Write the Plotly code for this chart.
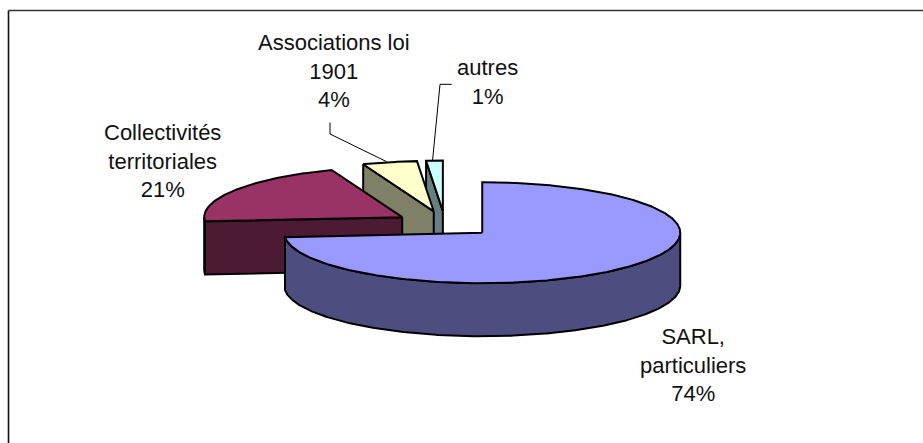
import numpy as np
import plotly.graph_objects as go

# Data
categories = ["SARL,<br>particuliers", "Collectivités<br>territoriales", "Associations loi<br>1901", "autres"]
values = [73.6, 20.6, 4.45, 1.35]
percent_labels = ["74%", "21%", "4%", "1%"]
top_colors = ["#9999FF", "#993366", "#FFFFCC", "#CCFFFF"]
side_colors = ["#4D4D80", "#4D1A33", "#808066", "#668080"]

# Pie projection geometry (pixels of the 923x443 page)
CX, CY = 445.0, 224.0
RX, RY = 198.0, 50.5
DEPTH = 53.0
EXPLODE = 0.255
EDGE = dict(color="#000000", width=2)

W, H = 923, 443
label_pos = [(693, 365), (162, 161), (334, 71), (487, 82)]
draw_order = [3, 2, 1, 0]

total = sum(values)
ends = 360.0 * np.cumsum(values) / total
starts = np.concatenate([[0.0], ends[:-1]])


def rim(a0, a1, ax, ay, dz=0.0):
    t = np.radians(np.linspace(a0, a1, max(2, int(abs(a1 - a0) * 2) + 2)))
    return ax + RX * np.sin(t), ay - RY * np.cos(t) + dz


def poly(xs, ys, fill):
    xs = np.append(xs, xs[0])
    ys = np.append(ys, ys[0])
    return go.Scatter(x=xs, y=ys, mode="lines", fill="toself", fillcolor=fill,
                      line=EDGE, hoverinfo="skip", showlegend=False)


fig = go.Figure()
for i in draw_order:
    a0, a1 = starts[i], ends[i]
    mid = np.radians((a0 + a1) / 2)
    ax = CX + EXPLODE * RX * np.sin(mid)
    ay = CY - EXPLODE * RY * np.cos(mid)

    # Visible cut faces
    for a, sign in ((a0, -1), (a1, 1)):
        if sign * np.sin(np.radians(a)) > 1e-6:
            ex, ey = rim(a, a, ax, ay)
            fx = [ax, ex[0], ex[0], ax]
            fy = [ay, ey[0], ey[0] + DEPTH, ay + DEPTH]
            fig.add_trace(poly(np.array(fx), np.array(fy), side_colors[i]))
    # Visible outer wall (the part of the rim facing the viewer)
    w0, w1 = max(a0, 90.0), min(a1, 270.0)
    if w1 > w0:
        tx, ty = rim(w0, w1, ax, ay)
        bx, by = rim(w1, w0, ax, ay, DEPTH)
        fig.add_trace(poly(np.concatenate([tx, bx]), np.concatenate([ty, by]), side_colors[i]))
    # Top surface
    tx, ty = rim(a0, a1, ax, ay)
    fig.add_trace(poly(np.concatenate([[ax], tx]), np.concatenate([[ay], ty]), top_colors[i]))

for (cat, pct, (lx, ly)) in zip(categories, percent_labels, label_pos):
    fig.add_annotation(x=lx, y=ly, text=f"{cat}<br>{pct}", showarrow=False, align="center",
                       xanchor="center", yanchor="middle",
                       font=dict(family="Liberation Sans, Arial, sans-serif", size=22, color="#111111"))

leader = dict(color="#000000", width=1)
shapes = [
    dict(type="line", x0=8.5, x1=8.5, y0=10.5, y1=H, line=dict(color="#111111", width=1.6)),
    dict(type="line", x0=8.5, x1=W, y0=10.5, y1=10.5, line=dict(color="#333333", width=1.6)),
    dict(type="path", path="M330,122.5 L330,134 L386.7,161.7", line=leader),
    dict(type="path", path="M451.7,84.3 L440,84.3 L432.5,161", line=leader),
]

fig.update_layout(
    width=W, height=H, margin=dict(l=0, r=0, t=0, b=0),
    paper_bgcolor="#FFFFFF", plot_bgcolor="#FFFFFF", showlegend=False, shapes=shapes,
    xaxis=dict(range=[0, W], visible=False, fixedrange=True),
    yaxis=dict(range=[H, 0], visible=False, fixedrange=True),
)
fig.write_html("out.html", config=dict(displayModeBar=False),
               post_script="document.body.style.margin='0';document.body.style.overflow='hidden';")
